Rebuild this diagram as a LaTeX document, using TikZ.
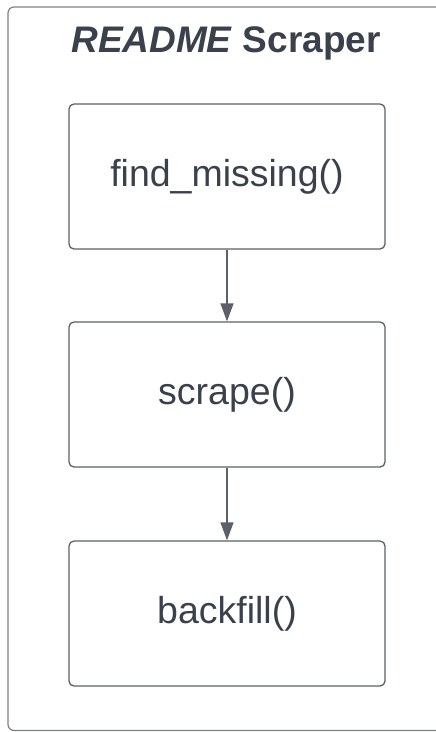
\documentclass[tikz,border=0pt]{standalone}
\usepackage{fontspec}
\setmainfont{Liberation Sans}
\usetikzlibrary{arrows.meta}
\definecolor{txt}{HTML}{3A414C}
\definecolor{boxline}{HTML}{5C6068}
\definecolor{frameline}{HTML}{7E8186}
\tikzset{
  stepbox/.style={draw=boxline, line width=1.3pt, rounded corners=5pt, fill=white,
    minimum width=316pt, minimum height=145pt, inner sep=0pt,
    text=txt, font=\fontsize{37.5}{40}\selectfont},
  flow/.style={draw=boxline, line width=1.3pt, -{Triangle[length=18pt,width=13pt]}},
}
\begin{document}
\begin{tikzpicture}[x=1pt,y=-1pt]
\clip (0,0) rectangle (436,732);
\fill[white] (0,0) rectangle (436,732);
\draw[frameline, line width=1.2pt, rounded corners=6pt] (8,7) rectangle (460,730.5);
\node[text=txt, font=\bfseries\fontsize{37}{40}\selectfont, anchor=base] (title) at (226,52) {\textit{README} Scraper};
\node[stepbox] (find) at (227,176.5) {find\_missing()};
\node[stepbox] (scrape) at (227,394.5) {scrape()};
\node[stepbox] (back) at (227,613.5) {backfill()};
\draw[flow] (find) -- (scrape);
\draw[flow] (scrape) -- (back);
\end{tikzpicture}
\end{document}
